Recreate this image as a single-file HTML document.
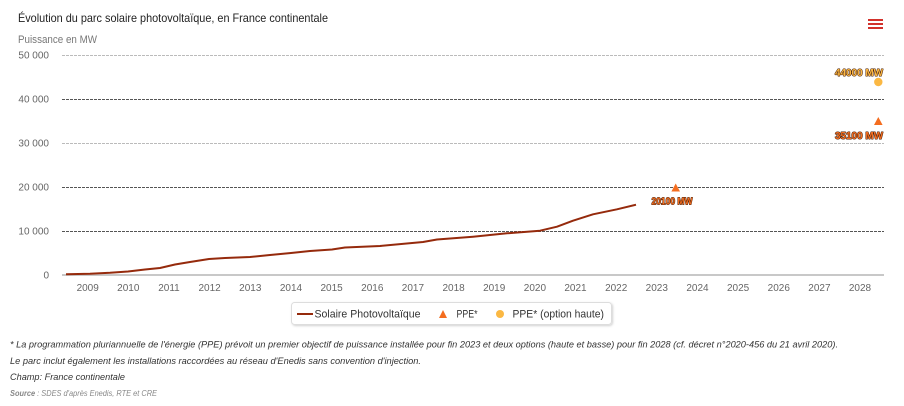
<!DOCTYPE html>
<html><head><meta charset="utf-8"><style>
html,body{margin:0;padding:0;background:#fff;}
svg{display:block;}
</style></head><body>
<svg width="904" height="406" viewBox="0 0 904 406" xmlns="http://www.w3.org/2000/svg" font-family="'Liberation Sans', sans-serif">
<defs>
<filter id="sh" x="-5%" y="-30%" width="110%" height="170%"><feDropShadow dx="1" dy="1" stdDeviation="1" flood-color="#000" flood-opacity="0.18"/></filter>
</defs>
<text x="18" y="22" font-size="12" fill="#222" textLength="310" lengthAdjust="spacingAndGlyphs">Évolution du parc solaire photovoltaïque, en France continentale</text>
<text x="18" y="43" font-size="11" fill="#777" textLength="79" lengthAdjust="spacingAndGlyphs">Puissance en MW</text>
<g stroke="#d2312b" stroke-width="2">
<line x1="868" y1="20" x2="883" y2="20"/><line x1="868" y1="24" x2="883" y2="24"/><line x1="868" y1="28" x2="883" y2="28"/>
</g>
<g stroke-dasharray="3,1" stroke-width="1">
<line x1="62" y1="55.5" x2="884" y2="55.5" stroke="#bbb"/>
<line x1="62" y1="99.5" x2="884" y2="99.5" stroke="#555"/>
<line x1="62" y1="143.5" x2="884" y2="143.5" stroke="#bbb"/>
<line x1="62" y1="187.5" x2="884" y2="187.5" stroke="#555"/>
<line x1="62" y1="231.5" x2="884" y2="231.5" stroke="#555"/>
</g>
<line x1="62" y1="275" x2="884" y2="275" stroke="#c8c8c8" stroke-width="2"/>
<g font-size="10" fill="#666" text-anchor="end">
<text x="49" y="58.5">50 000</text>
<text x="49" y="102.5">40 000</text>
<text x="49" y="146.5">30 000</text>
<text x="49" y="190.5">20 000</text>
<text x="49" y="234.5">10 000</text>
<text x="49" y="278.5">0</text>
</g>
<g font-size="10" fill="#666" text-anchor="middle">
<text x="87.7" y="291">2009</text><text x="128.3" y="291">2010</text><text x="169" y="291">2011</text><text x="209.6" y="291">2012</text><text x="250.3" y="291">2013</text><text x="291" y="291">2014</text><text x="331.6" y="291">2015</text><text x="372.3" y="291">2016</text><text x="412.9" y="291">2017</text><text x="453.6" y="291">2018</text><text x="494.2" y="291">2019</text><text x="534.9" y="291">2020</text><text x="575.5" y="291">2021</text><text x="616.2" y="291">2022</text><text x="656.8" y="291">2023</text><text x="697.5" y="291">2024</text><text x="738.1" y="291">2025</text><text x="778.8" y="291">2026</text><text x="819.4" y="291">2027</text><text x="860" y="291">2028</text>
</g>
<path d="M66,274.3 L90,273.8 L110,272.8 L128,271.5 L145,269.5 L160,268 L175,264.5 L190,262 L209,259 L225,258 L250,257 L270,255 L291,253 L310,251 L332,249.5 L345,247.5 L380,246 L423,242 L437,239.5 L473,236.7 L507,233.3 L540,230.7 L557,226.7 L573,220.7 L593,214.3 L617,209.3 L636,204.7" fill="none" stroke="#952a0c" stroke-width="2" stroke-linejoin="round"/>
<path d="M675.7,183.5 L680,191.5 L671.4,191.5 Z" fill="#f46d1f"/>
<path d="M878.3,117 L882.6,125 L874,125 Z" fill="#f46d1f"/>
<circle cx="878.3" cy="82" r="4.2" fill="#fbb843"/>
<g font-size="10" font-weight="bold" stroke="#4a200a" stroke-width="1.1" paint-order="stroke" stroke-linejoin="round">
<text x="672" y="204.5" text-anchor="middle" fill="#f46d1f" textLength="41" lengthAdjust="spacingAndGlyphs">20100 MW</text>
<text x="883" y="76" text-anchor="end" fill="#fbb843" textLength="48" lengthAdjust="spacingAndGlyphs">44000 MW</text>
<text x="883" y="139" text-anchor="end" fill="#f46d1f" textLength="48" lengthAdjust="spacingAndGlyphs">35100 MW</text>
</g>
<rect x="291.5" y="302.5" width="320" height="22" rx="3" fill="#fff" stroke="#ddd" filter="url(#sh)"/>
<line x1="297" y1="314" x2="313" y2="314" stroke="#952a0c" stroke-width="2"/>
<g font-size="11" fill="#333">
<text x="314.5" y="317.5" textLength="106" lengthAdjust="spacingAndGlyphs">Solaire Photovoltaïque</text>
<text x="456.5" y="317.5" textLength="21" lengthAdjust="spacingAndGlyphs">PPE*</text>
<text x="512.5" y="317.5" textLength="91.5" lengthAdjust="spacingAndGlyphs">PPE* (option haute)</text>
</g>
<path d="M443,310 L447,318 L439,318 Z" fill="#f46d1f"/>
<circle cx="500" cy="314" r="4" fill="#fbb843"/>
<g font-size="9.5" font-style="italic" fill="#333">
<text x="10" y="347.5" textLength="828" lengthAdjust="spacingAndGlyphs">* La programmation pluriannuelle de l'énergie (PPE) prévoit un premier objectif de puissance installée pour fin 2023 et deux options (haute et basse) pour fin 2028 (cf. décret n°2020-456 du 21 avril 2020).</text>
<text x="10" y="364" textLength="411" lengthAdjust="spacingAndGlyphs">Le parc inclut également les installations raccordées au réseau d'Enedis sans convention d'injection.</text>
<text x="10" y="380" textLength="115" lengthAdjust="spacingAndGlyphs">Champ: France continentale</text>
</g>
<text x="10" y="396" font-size="8" font-style="italic" fill="#888" textLength="147" lengthAdjust="spacingAndGlyphs"><tspan font-weight="bold">Source</tspan> : SDES d'après Enedis, RTE et CRE</text>
</svg>
</body></html>
